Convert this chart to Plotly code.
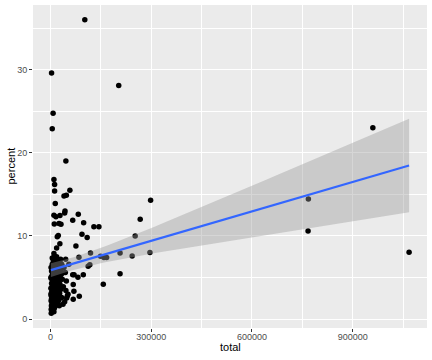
import numpy as np
import plotly.graph_objects as go

# scattered / outlying observations (total, percent)
total_main = [102000, 3000, 203000, 7500, 5000, 45600, 10000, 12000, 12000, 57500, 47000, 40000,
              14000, 43000, 42000, 82500, 10000, 16000, 28000, 25000, 31000, 11000, 66000, 98500,
              129000, 144000, 267000, 298000, 20000, 23000, 93500, 109000, 27700, 75500, 18000,
              252000, 296000, 207000, 119000, 243000, 167000, 159000, 149000, 84500, 45000, 112000,
              117000, 54500, 10000, 10000, 5000, 66000, 70000, 97500, 81500, 67500, 157000, 69500,
              207000, 45700, 48000, 85500, 67500, 50000, 960000, 768000, 767000, 1068000]
percent_main = [36.0, 29.6, 28.1, 24.75, 22.9, 19.0, 16.8, 16.2, 15.4, 15.5, 14.9, 14.8,
                13.9, 13.0, 12.75, 12.6, 12.5, 12.3, 12.45, 11.5, 11.4, 11.45, 11.9, 11.6,
                11.1, 11.1, 12.0, 14.3, 9.9, 10.05, 10.2, 9.8, 9.05, 8.8, 8.55,
                10.0, 8.0, 7.95, 7.95, 7.6, 7.4, 7.4, 7.55, 7.45, 7.2, 6.35,
                6.55, 6.6, 7.45, 7.9, 7.35, 5.35, 5.35, 5.35, 5.05, 4.15, 4.2, 3.35,
                5.45, 3.45, 2.55, 2.75, 2.4, 2.8, 23.0, 14.45, 10.6, 8.05]

# dense cluster of small totals
total_cluster = [2000, 3000, 4000, 2500, 5000, 1500, 3000, 6000, 2000, 4000, 1000, 5000, 3000, 7000,
                 2000, 4000, 6000, 3000, 1500, 5000, 8000, 2000, 6000, 8000, 7000, 9000, 1000, 9000,
                 7000, 8000, 9000, 6000, 1000,
                 10000, 12000, 11000, 14000, 13000, 15000, 10000, 12000, 16000, 14000, 11000, 17000,
                 13000, 15000, 18000, 12000, 16000, 19000, 14000, 11000, 17000, 20000, 18000, 19000,
                 20000, 16000, 10000, 15000, 13000,
                 22000, 25000, 23000, 27000, 21000, 24000, 28000, 26000, 22000, 30000, 25000, 29000,
                 23000, 27000, 32000, 34000, 21000, 26000, 31000, 33000, 24000, 35000,
                 28000, 33000, 36000, 30000, 18000, 38000, 42000, 37000, 44000, 40000, 47000, 52000,
                 3500, 5500, 7500, 9500, 11500, 13500, 15500, 17500, 4500, 6500, 8500, 10500,
                 12500, 14500, 16500, 19500]
percent_cluster = [0.7, 1.0, 1.3, 1.6, 1.9, 2.2, 2.5, 2.8, 3.1, 3.4, 3.7, 4.0, 4.3, 4.6,
                   4.9, 5.2, 5.5, 5.8, 6.2, 6.6, 7.0, 1.2, 1.5, 2.0, 2.3, 2.6, 2.9, 3.2,
                   3.6, 3.9, 4.4, 4.8, 5.0,
                   0.9, 1.4, 1.8, 2.1, 2.4, 2.7, 3.0, 3.3, 3.5, 3.8, 4.1, 4.3,
                   4.6, 4.9, 5.1, 5.4, 5.7, 6.0, 6.3, 6.5, 6.8, 7.0, 1.7, 2.9,
                   3.7, 4.0, 5.9, 6.6, 7.3,
                   1.9, 2.3, 2.8, 3.1, 3.4, 3.9, 4.2, 4.7, 5.0, 5.3, 5.6, 5.9,
                   6.2, 6.5, 6.0, 5.5, 6.9, 1.6, 3.6, 2.6, 4.5, 4.8,
                   6.8, 6.6, 6.3, 7.2, 7.5, 3.9, 2.1, 1.8, 5.6, 6.2, 4.6, 3.0,
                   1.1, 1.5, 2.0, 2.4, 2.7, 3.2, 3.5, 2.2, 1.8, 2.9, 3.3, 1.3,
                   2.5, 3.9, 2.8, 4.2]

x = np.array(total_main + total_cluster, dtype=float)
y = np.array(percent_main + percent_cluster, dtype=float)

# linear model with 95% confidence band (as geom_smooth(method="lm"))
n = len(x)
xbar = x.mean()
sxx = ((x - xbar) ** 2).sum()
b1 = ((x - xbar) * (y - y.mean())).sum() / sxx
b0 = y.mean() - b1 * xbar
resid = y - (b0 + b1 * x)
s = np.sqrt((resid ** 2).sum() / (n - 2))
tq = 1.973
xg = np.linspace(x.min(), x.max(), 80)
yg = b0 + b1 * xg
se = s * np.sqrt(1 / n + (xg - xbar) ** 2 / sxx)
lo = yg - tq * se
hi = yg + tq * se

xr = x.max() - x.min()
yr = y.max() - y.min()
xrange_ = [x.min() - 0.05 * xr, x.max() + 0.05 * xr]
yrange_ = [y.min() - 0.05 * yr, y.max() + 0.05 * yr]

FONT = "Liberation Sans, Arial, sans-serif"

fig = go.Figure()
fig.add_trace(go.Scatter(x=x, y=y, mode="markers",
                         marker=dict(color="black", size=5.5, line=dict(width=0)),
                         hoverinfo="skip"))
fig.add_trace(go.Scatter(x=np.concatenate([xg, xg[::-1]]), y=np.concatenate([hi, lo[::-1]]),
                         fill="toself", fillcolor="rgba(153,153,153,0.4)", mode="lines",
                         line=dict(width=0), hoverinfo="skip"))
fig.add_trace(go.Scatter(x=xg, y=yg, mode="lines", line=dict(color="#3366FF", width=2.2),
                         hoverinfo="skip"))

axis_common = dict(showgrid=True, gridcolor="white", gridwidth=1.1, zeroline=False,
                   ticks="outside", ticklen=3, tickcolor="#333333", tickwidth=1,
                   tickfont=dict(family=FONT, size=9, color="#4D4D4D"),
                   showline=False, automargin=False,
                   minor=dict(showgrid=True, gridcolor="white", gridwidth=0.5))
fig.update_xaxes(range=xrange_, tickvals=[0, 300000, 600000, 900000],
                 ticktext=["0", "300000", "600000", "900000"],
                 minor_tickvals=[150000, 450000, 750000, 1050000],
                 ticklabelstandoff=-3,
                 **axis_common)
fig.update_yaxes(range=yrange_, tickvals=[0, 10, 20, 30], ticktext=["0", "10", "20", "30"],
                 minor_tickvals=[5, 15, 25, 35],
                 **axis_common)
fig.add_annotation(text="total", xref="paper", yref="paper", x=0.5, y=0,
                   yanchor="middle", xanchor="center", showarrow=False,
                   yshift=-19, font=dict(family=FONT, size=11, color="black"))
fig.add_annotation(text="percent", xref="paper", yref="paper", x=0, y=0.5,
                   xanchor="center", yanchor="middle", xshift=-23, textangle=-90,
                   showarrow=False, font=dict(family=FONT, size=11, color="black"))
fig.update_layout(width=432, height=360, margin=dict(l=33, r=5, t=5, b=31.5),
                  plot_bgcolor="#EBEBEB", paper_bgcolor="white", showlegend=False)
fig.write_html("out.html", config={"displayModeBar": False},
               post_script="document.body.style.margin='0px';")
